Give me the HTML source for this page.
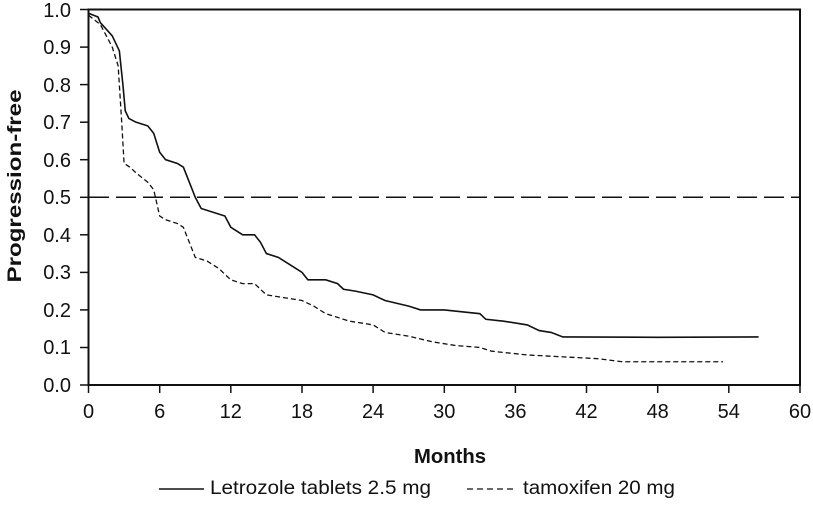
<!DOCTYPE html>
<html><head><style>body{margin:0;background:#fff}svg{display:block}text{font-family:"Liberation Sans",Arial,sans-serif;fill:#111}</style></head>
<body>
<svg width="813" height="505" viewBox="0 0 813 505">
<rect x="88.5" y="9.5" width="711.5" height="375.5" fill="none" stroke="#111" stroke-width="2"/>
<g stroke="#111" stroke-width="1.5">
<line x1="80" y1="385" x2="88" y2="385"/><line x1="80" y1="347.5" x2="88" y2="347.5"/><line x1="80" y1="309.9" x2="88" y2="309.9"/><line x1="80" y1="272.4" x2="88" y2="272.4"/><line x1="80" y1="234.8" x2="88" y2="234.8"/><line x1="80" y1="197.3" x2="88" y2="197.3"/><line x1="80" y1="159.7" x2="88" y2="159.7"/><line x1="80" y1="122.2" x2="88" y2="122.2"/><line x1="80" y1="84.6" x2="88" y2="84.6"/><line x1="80" y1="47.1" x2="88" y2="47.1"/><line x1="80" y1="9.5" x2="88" y2="9.5"/>
<line x1="88.5" y1="385" x2="88.5" y2="393"/><line x1="159.7" y1="385" x2="159.7" y2="393"/><line x1="230.8" y1="385" x2="230.8" y2="393"/><line x1="302" y1="385" x2="302" y2="393"/><line x1="373.1" y1="385" x2="373.1" y2="393"/><line x1="444.3" y1="385" x2="444.3" y2="393"/><line x1="515.4" y1="385" x2="515.4" y2="393"/><line x1="586.5" y1="385" x2="586.5" y2="393"/><line x1="657.7" y1="385" x2="657.7" y2="393"/><line x1="728.8" y1="385" x2="728.8" y2="393"/><line x1="800" y1="385" x2="800" y2="393"/>
</g>
<g font-size="20" text-anchor="end">
<text x="71" y="392">0.0</text><text x="71" y="354">0.1</text><text x="71" y="317">0.2</text><text x="71" y="279">0.3</text><text x="71" y="242">0.4</text><text x="71" y="204">0.5</text><text x="71" y="167">0.6</text><text x="71" y="129">0.7</text><text x="71" y="92">0.8</text><text x="71" y="54">0.9</text><text x="71" y="17">1.0</text>
</g>
<g font-size="20" text-anchor="middle">
<text x="88.5" y="418">0</text><text x="159.7" y="418">6</text><text x="230.8" y="418">12</text><text x="302" y="418">18</text><text x="373.1" y="418">24</text><text x="444.3" y="418">30</text><text x="515.4" y="418">36</text><text x="586.5" y="418">42</text><text x="657.7" y="418">48</text><text x="728.8" y="418">54</text><text x="800" y="418">60</text>
</g>
<text x="450" y="463" font-size="20" font-weight="bold" text-anchor="middle" textLength="72" lengthAdjust="spacingAndGlyphs">Months</text>
<text transform="translate(21,186) rotate(-90)" font-size="19" font-weight="bold" text-anchor="middle" textLength="193" lengthAdjust="spacingAndGlyphs">Progression-free</text>
<line x1="89" y1="197.3" x2="800" y2="197.3" stroke="#111" stroke-width="1.5" stroke-dasharray="20,7"/>
<g transform="translate(88.5,385) scale(11.86,-375.5)" fill="none" stroke="#111">
<polyline vector-effect="non-scaling-stroke" stroke-width="1.6" points="0,0.99 0.8,0.98 1,0.965 2,0.93 2.6,0.89 2.9,0.8 3.1,0.73 3.4,0.71 4,0.70 5,0.69 5.5,0.67 6,0.62 6.5,0.60 7.5,0.59 8,0.58 8.5,0.54 9,0.50 9.5,0.47 10.5,0.46 11.5,0.45 12,0.42 13,0.40 14,0.40 14.5,0.38 15,0.35 16,0.34 17,0.32 18,0.30 18.5,0.28 20,0.28 21,0.27 21.5,0.255 22.5,0.25 24,0.24 25,0.225 27,0.21 28,0.20 30,0.20 33,0.19 33.5,0.175 35,0.17 37,0.16 38,0.145 39,0.14 40,0.128 48,0.127 56.5,0.128"/>
<polyline vector-effect="non-scaling-stroke" stroke-width="1.3" stroke-dasharray="5,3" points="0,0.985 1,0.96 2,0.9 2.5,0.85 2.8,0.7 3,0.59 3.5,0.58 4,0.565 5,0.54 5.5,0.52 6,0.45 6.5,0.44 7.5,0.43 8,0.42 8.5,0.38 9,0.34 10,0.33 11,0.31 12,0.28 13,0.27 14,0.27 15,0.24 16,0.235 18,0.225 19,0.21 20,0.19 21,0.18 22,0.17 24,0.16 25,0.14 27,0.13 29,0.115 31,0.105 33,0.1 34,0.09 37,0.08 40,0.075 43,0.07 45,0.062 53.5,0.062"/>
</g>
<line x1="159" y1="489" x2="204" y2="489" stroke="#111" stroke-width="1.6"/>
<text x="210" y="494" font-size="19" textLength="221" lengthAdjust="spacingAndGlyphs">Letrozole tablets 2.5 mg</text>
<line x1="467" y1="489" x2="514" y2="489" stroke="#111" stroke-width="1.3" stroke-dasharray="6,4"/>
<text x="523" y="494" font-size="19" textLength="152" lengthAdjust="spacingAndGlyphs">tamoxifen 20 mg</text>
</svg>
</body></html>
